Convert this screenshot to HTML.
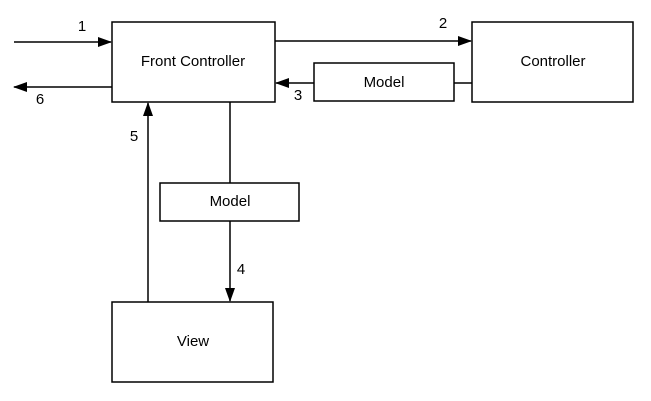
<!DOCTYPE html>
<html><head><style>body{margin:0;background:#fff}svg{display:block}</style></head><body>
<svg width="651" height="401" viewBox="0 0 651 401" xmlns="http://www.w3.org/2000/svg" font-family="Liberation Sans, sans-serif" font-size="15">
<defs>
<marker id="a" markerWidth="14" markerHeight="10" refX="13" refY="5" orient="auto" markerUnits="userSpaceOnUse"><path d="M0,0 L14,5 L0,10 z" fill="#000"/></marker>
</defs>
<g fill="#fff" stroke="#000" stroke-width="1.5">
<rect x="112" y="22" width="163" height="80"/>
<rect x="472" y="22" width="161" height="80"/>
<rect x="314" y="63" width="140" height="38"/>
<rect x="160" y="183" width="139" height="38"/>
<rect x="112" y="302" width="161" height="80"/>
</g>
<g stroke="#000" stroke-width="1.5" fill="none">
<line x1="14" y1="42" x2="111" y2="42" marker-end="url(#a)"/>
<line x1="275" y1="41" x2="471" y2="41" marker-end="url(#a)"/>
<line x1="314" y1="83" x2="276" y2="83" marker-end="url(#a)"/>
<line x1="454" y1="83" x2="472" y2="83"/>
<line x1="112" y1="87" x2="14" y2="87" marker-end="url(#a)"/>
<line x1="230" y1="102" x2="230" y2="183"/>
<line x1="230" y1="221" x2="230" y2="301" marker-end="url(#a)"/>
<line x1="148" y1="302" x2="148" y2="103" marker-end="url(#a)"/>
</g>
<g fill="#000" text-anchor="middle">
<text x="193" y="66">Front Controller</text>
<text x="553" y="66">Controller</text>
<text x="384" y="87">Model</text>
<text x="230" y="206">Model</text>
<text x="193" y="346">View</text>
<text x="82" y="31">1</text>
<text x="443" y="28">2</text>
<text x="298" y="100">3</text>
<text x="241" y="274">4</text>
<text x="134" y="141">5</text>
<text x="40" y="104">6</text>
</g>
</svg>
</body></html>
